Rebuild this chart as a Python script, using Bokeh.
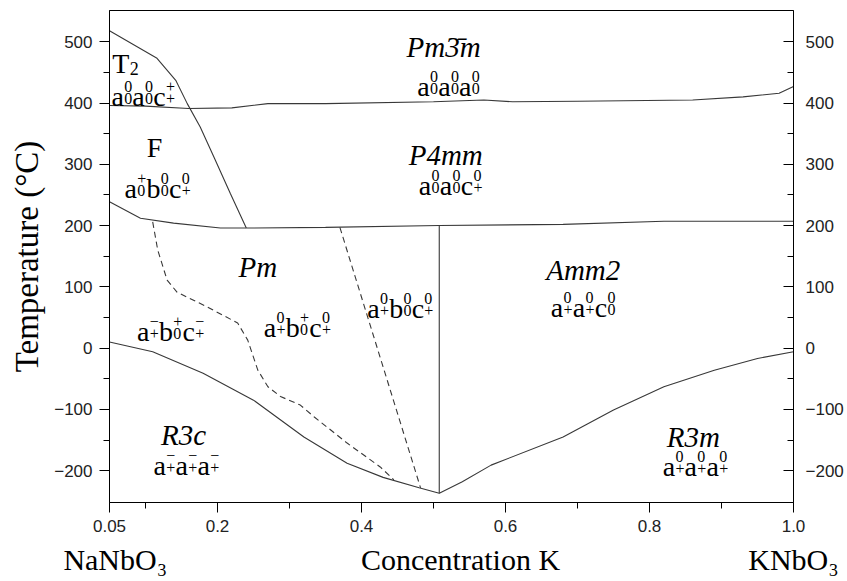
from bokeh.plotting import figure
from bokeh.models import Range1d, LinearAxis, FixedTicker, ColumnDataSource
from bokeh.core.properties import value
from bokeh.embed import file_html
from bokeh.resources import INLINE

# ---- phase boundaries: K fraction vs temperature (deg C) ----
cubic_x = [0.05, 0.10, 0.16, 0.22, 0.27, 0.35, 0.50, 0.57, 0.61, 0.70, 0.86, 0.93, 0.98, 1.00]
cubic_t = [396, 395, 391, 392, 399, 399, 402, 405, 402, 403, 405, 410, 416, 427]

t2_x = [0.05, 0.116, 0.142, 0.158, 0.176, 0.195, 0.218, 0.24]
t2_t = [518, 473, 437, 399, 361, 312, 252, 196]

ferro_x = [0.05, 0.093, 0.139, 0.204, 0.24, 0.35, 0.508, 0.68, 0.82, 1.0]
ferro_t = [239, 212, 204, 196, 196, 197, 200, 202, 207, 207]

mpb_x = [0.508, 0.508]
mpb_t = [200, -237]

rhomb_x = [0.05, 0.11, 0.18, 0.25, 0.32, 0.38, 0.43, 0.48, 0.508,
           0.54, 0.58, 0.68, 0.75, 0.82, 0.89, 0.95, 1.0]
rhomb_t = [10, -6, -41, -85, -145, -188, -211, -228, -237,
           -218, -191, -145, -101, -63, -36, -17, -6]

tilt_a_x = [0.11, 0.117, 0.13, 0.144, 0.186, 0.228, 0.242, 0.256, 0.27,
            0.2875, 0.315, 0.334, 0.38, 0.426, 0.445]
tilt_a_t = [206, 160, 111, 91, 67, 41, 13, -36, -63, -79, -93, -112, -155, -194, -215]

tilt_b_x = [0.37, 0.482]
tilt_b_t = [197, -228]

# ---- region labels ----
phase_names = ["Pm3\u0304m", "P4mm", "Pm", "Amm2", "R3c", "R3m"]
phase_x = [0.514, 0.517, 0.256, 0.708, 0.153, 0.861]
phase_t = [492, 315, 133, 127, -142, -145]

tilt_systems = ["a^0_0 a^0_0 a^0_0", "a^0_0 a^0_0 c^+_+", "a^0_0 a^0_0 c^0_+",
                "a^+_0 b^0_0 c^0_+", "a^-_+ b^+_0 c^-_+", "a^0_+ b^+_0 c^0_+",
                "a^0_+ b^0_0 c^0_+", "a^0_+ a^0_+ c^0_0", "a^-_+ a^-_+ a^-_+",
                "a^0_+ a^0_+ a^0_+"]
tilt_x = [0.521, 0.097, 0.524, 0.117, 0.135, 0.311, 0.454, 0.708, 0.157, 0.864]
tilt_t = [427, 410, 266, 261, 27, 33, 65, 67, -192, -193]

x_ticks = [0.05, 0.2, 0.4, 0.6, 0.8, 1.0]
x_tick_labels = ["0.05", "0.2", "0.4", "0.6", "0.8", "1.0"]
x_minor = [0.1, 0.3, 0.5, 0.7, 0.9]
t_ticks = [-200, -100, 0, 100, 200, 300, 400, 500]
t_minor = [-150, -50, 50, 150, 250, 350, 450]

# end members and composition caption along the bottom
comp_pos = [0.058, 0.5375, 1.0]
comp_labels = ["NaNbO\u2083", "Concentration K", "KNbO\u2083"]

SERIF = "Liberation Serif"
SANS = "Liberation Sans"
LINE = "#383838"

p = figure(width=847, height=581, x_range=Range1d(0.05, 1.0), y_range=Range1d(-252, 551),
           output_backend="svg", toolbar_location=None,
           min_border_left=109, min_border_right=54, min_border_top=10, min_border_bottom=79)
p.grid.visible = False
p.outline_line_color = "black"
p.outline_line_width = 1
p.background_fill_color = "white"
p.border_fill_color = "white"

# axes
xa = p.xaxis[0]
xa.ticker = FixedTicker(ticks=x_ticks, minor_ticks=x_minor)
xa.major_label_overrides = dict(zip(x_ticks, x_tick_labels))

ya = p.yaxis[0]
ya.ticker = FixedTicker(ticks=t_ticks, minor_ticks=t_minor)
ya.axis_label = "Temperature (\u00b0C)"
ya.axis_label_text_font = SERIF
ya.axis_label_text_font_size = "33px"
ya.axis_label_text_font_style = "normal"
ya.axis_label_text_color = "black"
ya.axis_label_standoff = 6

ra = LinearAxis(ticker=FixedTicker(ticks=t_ticks, minor_ticks=t_minor))
p.add_layout(ra, "right")

for ax in (xa, ya, ra):
    ax.axis_line_color = "black"
    ax.axis_line_width = 1
    ax.major_tick_line_color = "black"
    ax.minor_tick_line_color = "black"
    ax.major_label_text_font = SANS
    ax.major_label_text_font_size = "17px"
    ax.major_label_text_color = "#222222"

for ax in (xa, ya):
    ax.major_tick_out = 10
    ax.major_tick_in = 0
    ax.minor_tick_out = 6
    ax.minor_tick_in = 0
xa.major_label_standoff = 7
ya.major_label_standoff = 7

ra.major_tick_in = 10
ra.major_tick_out = 0
ra.minor_tick_in = 6
ra.minor_tick_out = 0
ra.major_label_standoff = 12

# second row under the x axis: end members and caption
ca = LinearAxis(ticker=FixedTicker(ticks=comp_pos, minor_ticks=[]))
ca.major_label_overrides = dict(zip(comp_pos, comp_labels))
ca.axis_line_color = None
ca.major_tick_line_color = None
ca.minor_tick_line_color = None
ca.major_tick_out = 0
ca.major_label_standoff = 8
ca.major_label_text_font = SERIF
ca.major_label_text_font_size = "30px"
ca.major_label_text_color = "black"
p.add_layout(ca, "below")

# boundaries
for xs, ts in [(cubic_x, cubic_t), (t2_x, t2_t), (ferro_x, ferro_t),
               (mpb_x, mpb_t), (rhomb_x, rhomb_t)]:
    p.line(xs, ts, line_color=LINE, line_width=1.1)
for xs, ts in [(tilt_a_x, tilt_a_t), (tilt_b_x, tilt_b_t)]:
    p.line(xs, ts, line_color=LINE, line_width=1.1, line_dash="6 4")

# space-group names
p.text(x=phase_x, y=phase_t, text=phase_names, text_font=value(SERIF),
       text_font_size="29px", text_font_style="italic", text_align="center",
       text_baseline="alphabetic", text_color="black")

# T2 and F labels
p.text(x=[0.072, 0.1125], y=[464, 328], text=["T", "F"], x_offset=[-13, 0], y_offset=[0, 0],
       text_font=value(SERIF), text_font_size="28px", text_align=["left", "center"],
       text_baseline="alphabetic", text_color="black")
p.text(x=[0.072], y=[464], text=["2"], x_offset=[4.5], y_offset=[5],
       text_font=value(SERIF), text_font_size="18px", text_align="left",
       text_baseline="alphabetic", text_color="black")

# Glen tilt notation: base letter with stacked super/subscript
ADV = {"a": 0.444, "b": 0.5, "c": 0.444, "0": 0.5, "+": 0.564, "\u2212": 0.564}
BASE_PX, SCRIPT_PX = 28, 16
SUP_RISE, SUB_DROP = -10, 2

base_rows = dict(x=[], y=[], text=[], dx=[], dy=[])
script_rows = dict(x=[], y=[], text=[], dx=[], dy=[])
for spec, cx, ct in zip(tilt_systems, tilt_x, tilt_t):
    terms = []
    for tok in spec.split():
        sup = tok[2].replace("-", "\u2212")
        sub = tok[4].replace("-", "\u2212")
        terms.append((tok[0], sup, sub))
    widths = [ADV[b] * BASE_PX + max(ADV[s1], ADV[s2]) * SCRIPT_PX + 0.5 for b, s1, s2 in terms]
    cur = -sum(widths) / 2
    for (b, s1, s2), w in zip(terms, widths):
        base_rows["x"].append(cx); base_rows["y"].append(ct)
        base_rows["text"].append(b); base_rows["dx"].append(cur); base_rows["dy"].append(0)
        sx = cur + ADV[b] * BASE_PX + 0.3
        for s, dy in ((s1, SUP_RISE), (s2, SUB_DROP)):
            script_rows["x"].append(cx); script_rows["y"].append(ct)
            script_rows["text"].append(s); script_rows["dx"].append(sx); script_rows["dy"].append(dy)
        cur += w

p.text(x="x", y="y", text="text", x_offset="dx", y_offset="dy", source=ColumnDataSource(base_rows),
       text_font=value(SERIF), text_font_size=f"{BASE_PX}px", text_align="left",
       text_baseline="alphabetic", text_color="black")
p.text(x="x", y="y", text="text", x_offset="dx", y_offset="dy", source=ColumnDataSource(script_rows),
       text_font=value(SERIF), text_font_size=f"{SCRIPT_PX}px", text_align="left",
       text_baseline="alphabetic", text_color="black")

open("out.html", "w").write(file_html(p, INLINE))
